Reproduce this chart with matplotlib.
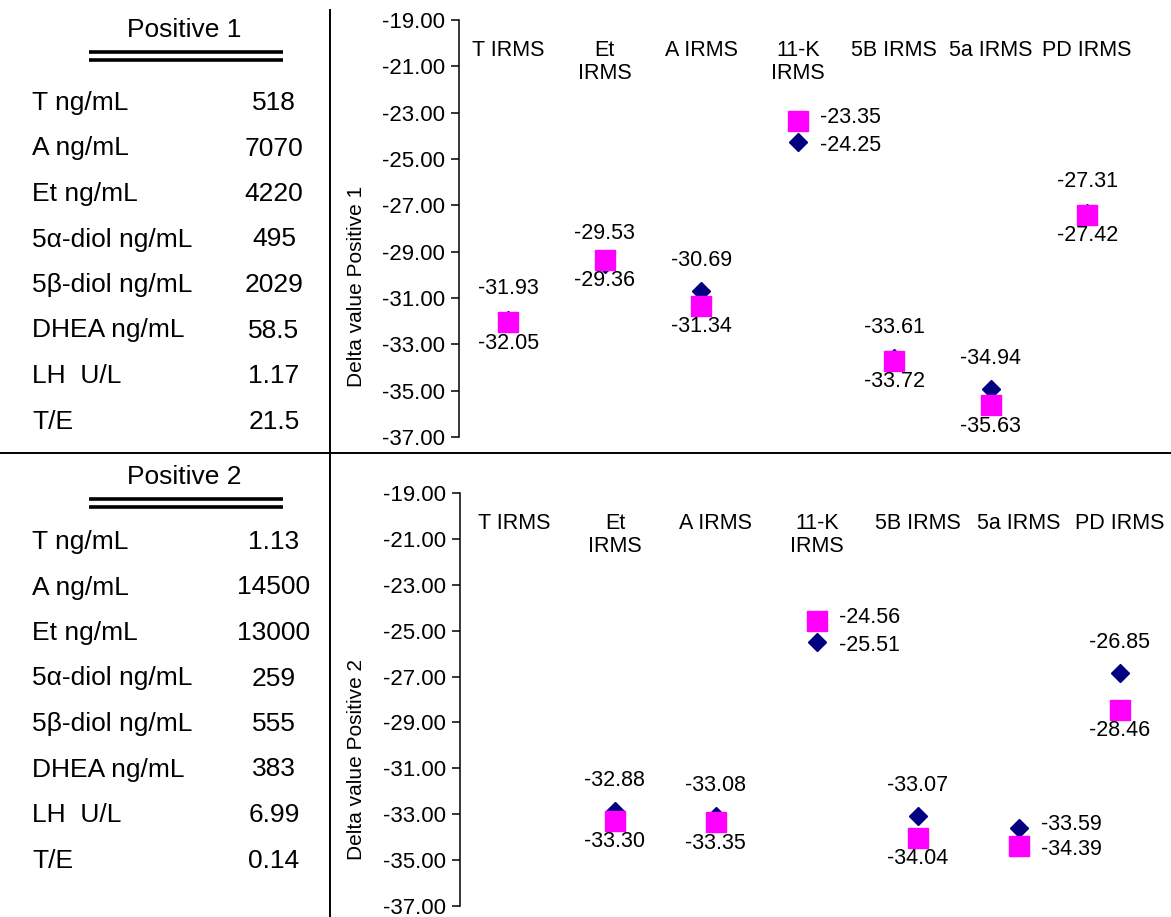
import numpy as np
import matplotlib
matplotlib.use('Agg')
import matplotlib.pyplot as plt
from matplotlib.lines import Line2D

plt.rcParams['font.family'] = ['Liberation Sans', 'DejaVu Sans']

# categories on the x axis
categories = ['T IRMS', 'Et\nIRMS', 'A IRMS', '11-K\nIRMS', '5B IRMS', '5a IRMS', 'PD IRMS']

# delta values, navy diamonds / magenta squares
pos1_diamond = [-31.93, -29.53, -30.69, -24.25, -33.61, -34.94, -27.31]
pos1_square = [-32.05, -29.36, -31.34, -23.35, -33.72, -35.63, -27.42]
pos2_diamond = [np.nan, -32.88, -33.08, -25.51, -33.07, -33.59, -26.85]
pos2_square = [np.nan, -33.30, -33.35, -24.56, -34.04, -34.39, -28.46]

# where the data labels go: 'ab' = diamond above / square below, 'r' = to the right
pos1_label_mode = ['ab', 'ab', 'ab', 'r', 'ab', 'ab', 'ab']
pos2_label_mode = ['ab', 'ab', 'ab', 'r', 'ab', 'r', 'ab']

# left hand tables
row_names = ['T ng/mL', 'A ng/mL', 'Et ng/mL', '5\u03b1-diol ng/mL', '5\u03b2-diol ng/mL',
             'DHEA ng/mL', 'LH  U/L', 'T/E']
pos1_values = ['518', '7070', '4220', '495', '2029', '58.5', '1.17', '21.5']
pos2_values = ['1.13', '14500', '13000', '259', '555', '383', '6.99', '0.14']

W, H = 1171, 917
NAVY = '#000080'
MAGENTA = '#FF00FF'


def fx(px):
    return px / W


def fy(py):
    return 1 - py / H


fig = plt.figure(figsize=(W / 100, H / 100), dpi=100)


def table(title, values, y_title, y_first):
    fig.text(fx(184), fy(y_title), title, fontsize=19, ha='center', va='center')
    for dy in (0, 8):
        fig.add_artist(Line2D([fx(89), fx(283)], [fy(y_title + 22 + dy)] * 2,
                              color='black', lw=2.6, solid_capstyle='butt'))
    for i, (name, val) in enumerate(zip(row_names, values)):
        y = fy(y_first + i * 45.5)
        fig.text(fx(32), y, name, fontsize=19, ha='left', va='center')
        fig.text(fx(274), y, val, fontsize=19, ha='center', va='center')


def scatter_panel(rect, xlim, diamonds, squares, modes, ylabel, ylabel_y):
    ax = fig.add_axes(rect)
    x = np.arange(1, len(categories) + 1)
    ax.plot(x, diamonds, ls='none', marker='D', ms=9.5, color=NAVY, zorder=3)
    ax.plot(x, squares, ls='none', marker='s', ms=14, color=MAGENTA, zorder=4)
    for xi, d, s, m in zip(x, diamonds, squares, modes):
        if np.isnan(d):
            continue
        if m == 'ab':
            ax.annotate(f'{d:.2f}', (xi, d), xytext=(0, 22), textcoords='offset points',
                        ha='center', va='center', fontsize=15.5, zorder=5)
            ax.annotate(f'{s:.2f}', (xi, s), xytext=(0, -15), textcoords='offset points',
                        ha='center', va='center', fontsize=15.5, zorder=5)
        else:
            # labels to the right; nudge the upper one up and the lower one down
            up = 2.5 if d > s else -2.5
            ax.annotate(f'{d:.2f}', (xi, d), xytext=(16, up), textcoords='offset points',
                        ha='left', va='center', fontsize=15.5, zorder=5)
            ax.annotate(f'{s:.2f}', (xi, s), xytext=(16, -up), textcoords='offset points',
                        ha='left', va='center', fontsize=15.5, zorder=5)
    for xi, c in zip(x, categories):
        ax.text(xi, -19.85, c, ha='center', va='top', fontsize=15.5, linespacing=1.15)
    ax.set_xlim(*xlim)
    ax.set_ylim(-37, -19)
    ax.set_yticks(np.arange(-37, -18, 2))
    ax.yaxis.set_major_formatter(lambda v, p: f'{v:.2f}')
    ax.tick_params(axis='y', direction='out', length=6, width=1.1, labelsize=16, pad=4)
    ax.set_xticks([])
    for s in ('top', 'right', 'bottom'):
        ax.spines[s].set_visible(False)
    ax.spines['left'].set_linewidth(1.1)
    ax.patch.set_alpha(0)
    fig.text(fx(356), fy(ylabel_y), ylabel, rotation=90, fontsize=15,
             ha='center', va='center')
    return ax


table('Positive 1', pos1_values, 30, 103)
table('Positive 2', pos2_values, 477, 542)

scatter_panel([fx(459), fy(437), 676.5 / W, 417 / H], (0.49, 7.5),
              pos1_diamond, pos1_square, pos1_label_mode, 'Delta value Positive 1', 286)
scatter_panel([fx(460), fy(906), 710 / W, 413 / H], (0.465, 7.5),
              pos2_diamond, pos2_square, pos2_label_mode, 'Delta value Positive 2', 760)

# separators
fig.add_artist(Line2D([fx(330), fx(330)], [fy(10), fy(917)], color='black', lw=1.4))
fig.add_artist(Line2D([fx(0), fx(1171)], [fy(453), fy(453)], color='black', lw=1.4))

fig.savefig('out.png', dpi=100)
